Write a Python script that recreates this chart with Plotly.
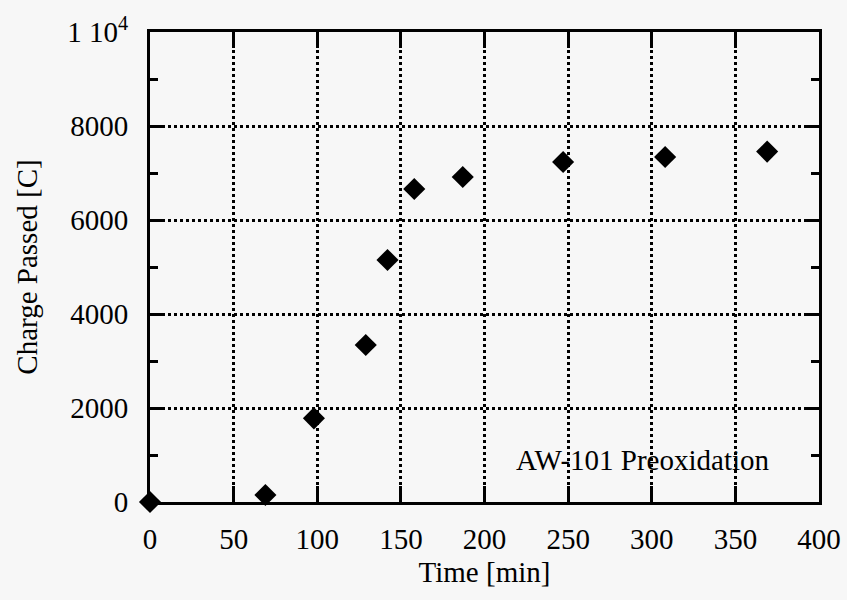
import plotly.graph_objects as go

time_min = [0, 69, 98, 129, 142, 158, 187, 247, 308, 369]
charge_c = [0, 150, 1780, 3340, 5150, 6660, 6915, 7235, 7340, 7455]

y_tickvals = [0, 2000, 4000, 6000, 8000, 10000]
y_ticktext = ["0", "2000", "4000", "6000", "8000", "1 10<sup>4</sup>"]
x_tickvals = [0, 50, 100, 150, 200, 250, 300, 350, 400]

FONT = "Liberation Serif, Times New Roman, serif"
BG = "#f7f7f7"

fig = go.Figure()
fig.add_trace(go.Scatter(
    x=time_min, y=charge_c, mode="markers",
    marker=dict(symbol="diamond", size=17, color="black"),
    cliponaxis=False, showlegend=False,
))

fig.add_annotation(x=295, y=894, text="AW-101 Preoxidation", showarrow=False,
                   font=dict(family=FONT, size=29, color="black"), bgcolor="rgba(0,0,0,0)")

fig.update_layout(
    width=847, height=600,
    margin=dict(l=150, r=28, t=32, b=98),
    paper_bgcolor=BG, plot_bgcolor=BG,
    font=dict(family=FONT, size=29, color="black"),
    xaxis=dict(
        range=[0, 400], tickvals=x_tickvals,
        showline=True, linecolor="black", linewidth=3, mirror="allticks",
        ticks="inside", ticklen=16, tickwidth=3, tickcolor="black",
        showgrid=True, gridcolor="black", gridwidth=2.5, griddash="dot",
        zeroline=False, automargin=False,
        ticklabelstandoff=9,
        title=dict(text="Time [min]", font=dict(family=FONT, size=29), standoff=8),
        tickfont=dict(family=FONT, size=29),
    ),
    yaxis=dict(
        range=[0, 10000], tickvals=y_tickvals, ticktext=y_ticktext,
        showline=True, linecolor="black", linewidth=3, mirror="allticks",
        ticks="inside", ticklen=14, tickwidth=3, tickcolor="black",
        showgrid=True, gridcolor="black", gridwidth=2.5, griddash="dot",
        zeroline=False, automargin=False,
        ticklabelstandoff=13,
        minor=dict(dtick=1000, ticks="inside", ticklen=8, tickwidth=3, tickcolor="black", showgrid=False),
        title=dict(text="Charge Passed [C]", font=dict(family=FONT, size=29), standoff=22),
        tickfont=dict(family=FONT, size=29),
    ),
)

fig.write_html("out.html")
